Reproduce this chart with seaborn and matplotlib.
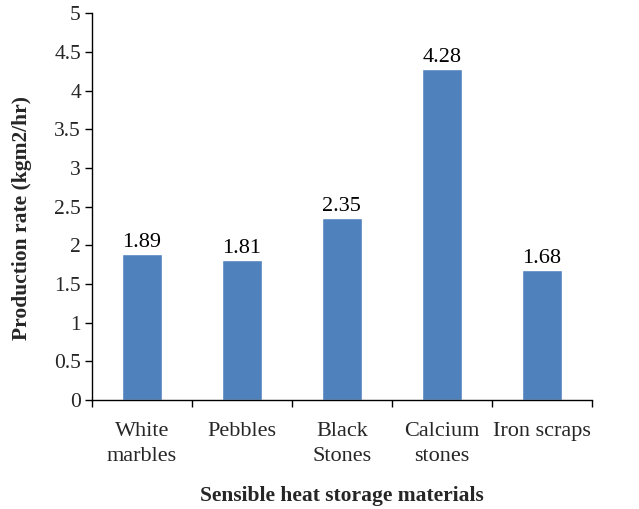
import matplotlib
matplotlib.use("Agg")
import matplotlib.pyplot as plt
import seaborn as sns
import pandas as pd

categories = ["White\nmarbles", "Pebbles", "Black\nStones", "Calcium\nstones", "Iron scraps"]
values = [1.89, 1.81, 2.35, 4.28, 1.68]
yticks = [0, 0.5, 1, 1.5, 2, 2.5, 3, 3.5, 4, 4.5, 5]

sns.set_theme(style="ticks")
plt.rcParams["font.family"] = ["Liberation Serif", "DejaVu Serif"]

df = pd.DataFrame({"cat": categories, "val": values})

fig = plt.figure(figsize=(6.39, 5.09), dpi=100)
ax = fig.add_axes([0.144, 0.214, 0.782, 0.760])
sns.barplot(data=df, x="cat", y="val", color="#4F81BD", saturation=1, width=0.4, ax=ax)

for i, v in enumerate(values):
    ax.text(i, v + 0.03, f"{v:.2f}", ha="center", va="bottom", fontsize=16, color="black")

ax.set_ylim(0, 5)
ax.set_xlim(-0.5, len(categories) - 0.5)
ax.set_yticks(yticks)
ax.set_yticklabels([f"{t:g}" for t in yticks], fontsize=15.5)
ax.set_xticks([i - 0.5 for i in range(len(categories) + 1)], minor=False)
ax.set_xticklabels([])
ax.set_xticks(range(len(categories)), minor=True)
ax.set_xticklabels(categories, minor=True, fontsize=16, va="top", linespacing=1.4)
ax.tick_params(axis="x", which="minor", length=0, pad=16)
ax.tick_params(axis="x", which="major", length=5, width=1, direction="out", color="black")
ax.tick_params(axis="y", length=5, width=1, direction="out", color="black", pad=3)
for s in ["top", "right"]:
    ax.spines[s].set_visible(False)
for s in ["left", "bottom"]:
    ax.spines[s].set_color("black")
    ax.spines[s].set_linewidth(1)

ax.set_xlabel("Sensible heat storage materials", fontsize=15.5, fontweight="bold")
ax.set_ylabel("Production rate (kgm2/hr)", fontsize=15.5, fontweight="bold")
ax.xaxis.set_label_coords(0.5, -0.222)
ax.yaxis.set_label_coords(-0.12, 0.47)

fig.savefig("out.png", dpi=100)
